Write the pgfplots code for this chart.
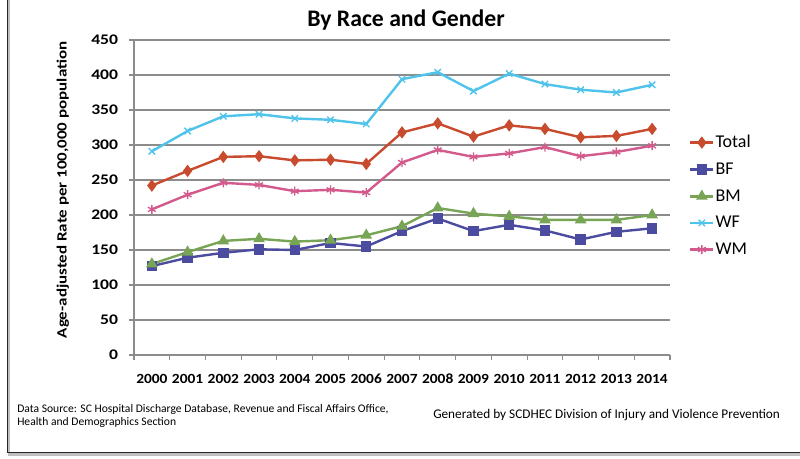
\documentclass[border=0pt]{standalone}
\usepackage{fontspec}
\setmainfont{Carlito}
\newfontfamily\tickfont{Carlito}[FakeStretch=1.2]
\newfontfamily\xtickfont{Carlito}[FakeStretch=1.1]
\usepackage{pgfplots}
\pgfplotsset{compat=1.18}

\definecolor{cTotal}{HTML}{C84B2E}
\definecolor{cBF}{HTML}{4B4BA0}
\definecolor{cBM}{HTML}{78A555}
\definecolor{cWF}{HTML}{50C3EB}
\definecolor{cWM}{HTML}{D25A8C}

\begin{document}
\begin{tikzpicture}
  \useasboundingbox (0,0) rectangle (600pt,343.5pt);
  % frame with a shadow, only left and bottom edges fall inside
  \draw[black!25, line width=1.6pt] (6.8pt,346pt) -- (6.8pt,2.6pt) -- (610pt,2.6pt);
  \draw[black!85, line width=1pt] (5.4pt,346pt) -- (5.4pt,4.2pt) -- (610pt,4.2pt);

  \node[font=\bfseries\fontsize{17.8}{20}\selectfont] at (304.5pt,328.5pt) {By Race and Gender};

  \begin{axis}[
      at={(100.5pt,77.25pt)}, anchor=south west,
      scale only axis, width=402pt, height=236.25pt,
      xmin=1999.5, xmax=2014.5, ymin=0, ymax=450,
      xtick={2000,...,2014},
      minor xtick={1999.5,2000.5,...,2014.5},
      ytick={0,50,...,450},
      axis x line*=bottom, axis y line*=left,
      axis line style={black!45, line width=0.8pt},
      ymajorgrids, major grid style={black!45, line width=0.8pt},
      tick align=outside,
      major tick length=3.75pt, minor tick length=3.75pt,
      every tick/.style={black!45, line width=0.8pt},
      major x tick style={draw=none},
      /pgf/number format/assume math mode=true,
      /pgf/number format/1000 sep={},
      yticklabel style={font=\tickfont\bfseries\fontsize{11}{13}\selectfont,
                        inner sep=0pt, xshift=-8pt},
      xticklabel style={font=\xtickfont\bfseries\fontsize{10.5}{12}\selectfont,
                        inner sep=0pt, yshift=-10.5pt},
      ylabel={Age-adjusted Rate per 100,000 population},
      ylabel style={font=\tickfont\bfseries\fontsize{10.6}{12}\selectfont,
                    at={(axis description cs:-0.1325,0.524)}, anchor=center},
      legend style={at={(1.028,0.71)}, anchor=north west, draw=none, fill=none,
                    font=\fontsize{13.5}{15}\selectfont, row sep=8.2pt,
                    nodes={inner sep=0.8pt}},
      legend cell align=left,
      every axis plot/.append style={line width=1.8pt},
    ]
    \addplot[cTotal, mark=diamond*, mark size=3.2pt] coordinates {
      (2000,242) (2001,263) (2002,283) (2003,284) (2004,278) (2005,279) (2006,273)
      (2007,318) (2008,331) (2009,312) (2010,328) (2011,323) (2012,311) (2013,313) (2014,323)};
    \addplot[cBF, mark=square*, mark size=3pt] coordinates {
      (2000,127) (2001,139) (2002,146) (2003,151) (2004,150) (2005,160) (2006,155)
      (2007,177) (2008,195) (2009,177) (2010,186) (2011,178) (2012,165) (2013,176) (2014,181)};
    \addplot[cBM, mark=triangle*, mark size=3.3pt] coordinates {
      (2000,130) (2001,147) (2002,163) (2003,166) (2004,162) (2005,164) (2006,171)
      (2007,184) (2008,210) (2009,202) (2010,198) (2011,193) (2012,193) (2013,193) (2014,200)};
    \addplot[cWF, mark=x, mark size=3.4pt, mark options={line width=1pt}] coordinates {
      (2000,291) (2001,320) (2002,341) (2003,344) (2004,338) (2005,336) (2006,330)
      (2007,394) (2008,404) (2009,377) (2010,402) (2011,387) (2012,379) (2013,375) (2014,386)};
    \addplot[cWM, mark=asterisk, mark size=3.4pt, mark options={line width=1pt}] coordinates {
      (2000,208) (2001,229) (2002,246) (2003,243) (2004,234) (2005,236) (2006,232)
      (2007,275) (2008,293) (2009,283) (2010,288) (2011,297) (2012,284) (2013,290) (2014,299)};
    \legend{Total, BF, BM, WF, WM}
  \end{axis}

  \node[anchor=base west, font=\fontsize{8.7}{10}\selectfont, inner sep=0pt] at (12.75pt,34.5pt)
    {Data Source: SC Hospital Discharge Database, Revenue and Fiscal Affairs Office,};
  \node[anchor=base west, font=\fontsize{8.7}{10}\selectfont, inner sep=0pt] at (12.75pt,24.75pt)
    {Health and Demographics Section};
  \node[anchor=base west, font=\fontsize{9.95}{11}\selectfont, inner sep=0pt] at (324.75pt,30pt)
    {Generated by SCDHEC Division of Injury and Violence Prevention};
\end{tikzpicture}
\end{document}
